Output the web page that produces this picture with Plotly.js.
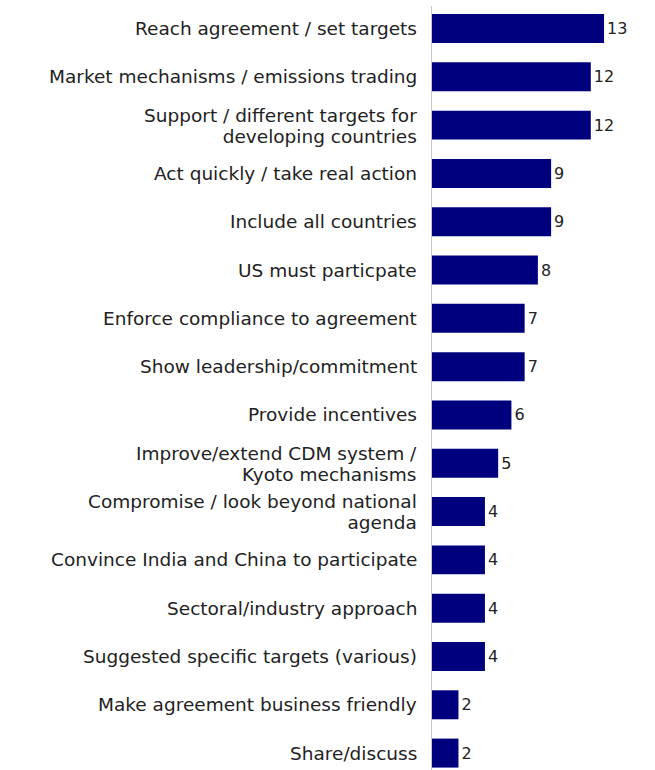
<!DOCTYPE html>
<html><head><meta charset="utf-8">
<script src="https://cdn.plot.ly/plotly-3.0.1.min.js"></script>
<style>html,body{margin:0;padding:0;background:#fff}#chart{width:655px;height:770px}</style>
</head><body><div id="chart"></div>
<script>
const categories = [
  "Reach agreement / set targets",
  "Market mechanisms / emissions trading",
  "Support / different targets for<br>developing countries",
  "Act quickly / take real action",
  "Include all countries",
  "US must particpate",
  "Enforce compliance to agreement",
  "Show leadership/commitment",
  "Provide incentives",
  "Improve/extend CDM system /<br>Kyoto mechanisms",
  "Compromise / look beyond national<br>agenda",
  "Convince India and China to participate",
  "Sectoral/industry approach",
  "Suggested specific targets (various)",
  "Make agreement business friendly",
  "Share/discuss"
];
const values = [13, 12, 12, 9, 9, 8, 7, 7, 6, 5, 4, 4, 4, 4, 2, 2];

const FONT = 'DejaVu Sans, sans-serif';
const trace = {
  type: 'bar', orientation: 'h',
  x: values, y: categories,
  marker: {color: '#00007f'},
  text: values.map(String), textposition: 'outside',
  textfont: {family: FONT, size: 16, color: '#222'},
  cliponaxis: false, width: 0.6,
  hoverinfo: 'none'
};

const annotations = categories.map(cat => ({
  xref: 'paper', yref: 'y', x: 0, y: cat,
  xanchor: 'right', yanchor: 'middle', align: 'right',
  xshift: -14, text: cat, showarrow: false, borderpad: 0,
  font: {family: FONT, size: 18.5, color: '#222'}
}));

const layout = {
  width: 655, height: 770,
  margin: {l: 432, r: 0, t: 6, b: 0},
  paper_bgcolor: '#fff', plot_bgcolor: '#fff',
  showlegend: false,
  bargap: 0.4,
  xaxis: {range: [0, 16.85], showgrid: false, zeroline: false, showticklabels: false, showline: false, ticks: ''},
  yaxis: {
    type: 'category', range: [15.35, -0.466], autorange: false,
    showgrid: false, zeroline: false, showticklabels: false,
    showline: true, linecolor: '#c8c8c8', linewidth: 1, ticks: ''
  },
  annotations: annotations,
  font: {family: FONT}
};
Plotly.newPlot('chart', [trace], layout, {displayModeBar: false, staticPlot: true}).then(gd => {
  // tighten leading of the two-line category labels to match the original
  gd.querySelectorAll('text.annotation-text').forEach(t => {
    const lines = t.querySelectorAll('tspan.line');
    if (lines.length === 2) {
      lines[0].setAttribute('dy', '0.0825em');
      lines[1].setAttribute('dy', '1.2175em');
    }
  });
});
</script></body></html>
